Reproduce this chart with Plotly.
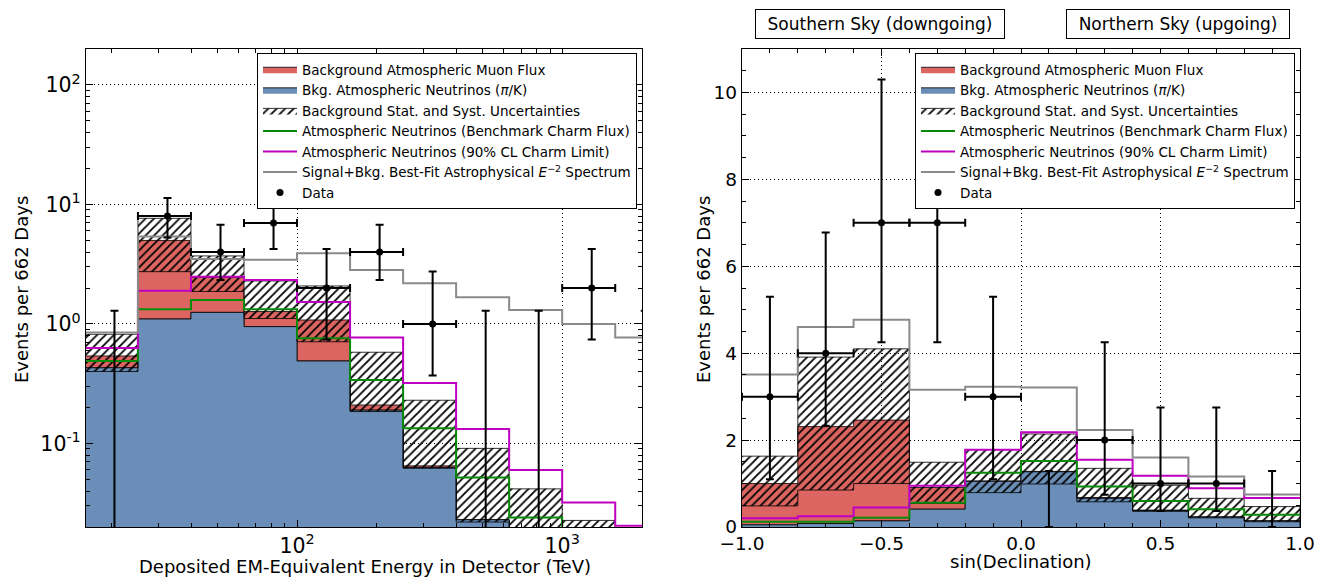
import math
import plotly.graph_objects as go

# ---------------- left panel: deposited energy (TeV) ----------------
e_edges = [15.85, 25.12, 39.81, 63.10, 100.0, 158.5, 251.2, 398.1, 631.0, 1000.0, 1585.0, 2512.0]
e_nu = [0.43, 1.10, 1.25, 0.95, 0.49, 0.19, 0.063, 0.023, 0.011, 0.006, 0.003]
e_muon = [0.11, 3.90, 1.20, 0.32, 0.59, 0.02, 0.002, 0.0, 0.0, 0.0, 0.0]
e_unc_lo = [0.40, 2.74, 1.87, 1.11, 0.71, 0.185, 0.062, 0.022, 0.010, 0.005, 0.002]
e_unc_hi = [0.82, 7.66, 3.71, 2.29, 2.08, 0.58, 0.23, 0.091, 0.0417, 0.0227, 0.012]
e_charm = [0.49, 1.33, 1.59, 1.33, 0.76, 0.34, 0.134, 0.052, 0.024, 0.012, 0.006]
e_charm90 = [0.63, 1.90, 2.49, 2.33, 1.53, 0.77, 0.32, 0.132, 0.060, 0.032, 0.0205]
e_signal = [0.85, 5.40, 3.50, 3.44, 3.90, 2.83, 2.19, 1.67, 1.31, 1.00, 0.77]
e_data = [0, 8, 4, 7, 2, 4, 1, 0, 0, 2, 0]
e_data_lo = [0, 5.30, 2.33, 4.25, 0.74, 2.33, 0.37, 0, 0, 0.74, 0]
e_data_hi = [1.29, 11.32, 6.78, 10.30, 4.25, 6.78, 2.75, 1.29, 1.29, 4.25, 1.29]

# ---------------- right panel: sin(declination) ----------------
d_edges = [-1.0, -0.8, -0.6, -0.4, -0.2, 0.0, 0.2, 0.4, 0.6, 0.8, 1.0]
d_nu = [0.05, 0.08, 0.14, 0.41, 1.05, 1.27, 0.66, 0.38, 0.23, 0.14]
d_muon = [0.95, 2.23, 2.32, 0.50, 0.01, 0.01, 0.02, 0.01, 0.0, 0.0]
d_unc_lo = [0.485, 0.85, 1.00, 0.54, 0.79, 0.99, 0.58, 0.36, 0.21, 0.12]
d_unc_hi = [1.63, 3.91, 4.10, 1.49, 1.78, 2.14, 1.35, 0.96, 0.66, 0.47]
d_charm = [0.12, 0.12, 0.215, 0.56, 1.25, 1.52, 0.93, 0.60, 0.41, 0.28]
d_charm90 = [0.20, 0.25, 0.45, 0.95, 1.78, 2.18, 1.55, 1.18, 0.89, 0.67]
d_signal = [3.51, 4.60, 4.77, 3.16, 3.23, 3.21, 2.23, 1.60, 1.16, 0.75]
d_data = [3, 4, 7, 7, 3, 0, 2, 1, 1, 0]
d_data_lo = [1.10, 2.33, 4.25, 4.25, 1.10, 0, 0.74, 0.37, 0.37, 0]
d_data_hi = [5.30, 6.78, 10.30, 10.30, 5.30, 1.29, 4.25, 2.75, 2.75, 1.29]

labels = [
    "Background Atmospheric Muon Flux",
    "Bkg. Atmospheric Neutrinos (<i>π</i>/K)",
    "Background Stat. and Syst. Uncertainties",
    "Atmospheric Neutrinos (Benchmark Charm Flux)",
    "Atmospheric Neutrinos (90% CL Charm Limit)",
    "Signal+Bkg. Best-Fit Astrophysical <i>E</i><sup>−2</sup> Spectrum",
    "Data",
]

RED = "#dc6461"
BLUE = "#6b8eb8"
GREEN = "#0a8a0a"
MAGENTA = "#c000c0"
GREY = "#8a8a8a"
FONT = "DejaVu Sans"


def steps(edges, vals):
    xs, ys = [], []
    for i, v in enumerate(vals):
        xs += [edges[i], edges[i + 1]]
        ys += [v, v]
    return xs, ys


def band(edges, lo, hi):
    xu, yu = steps(edges, hi)
    xl, yl = steps(edges, lo)
    return xu + xl[::-1], yu + yl[::-1]


fig = go.Figure()


def add_panel(edges, nu, muon, lo, hi, charm, charm90, signal, data, dlo, dhi,
              xa, ya, leg, floor):
    total = [a + b for a, b in zip(nu, muon)]
    common = dict(xaxis=xa, yaxis=ya, legend=leg)

    x, y = band(edges, nu, total)
    fig.add_trace(go.Scatter(x=x, y=y, fill="toself", fillcolor=RED, mode="lines",
                             line=dict(color="black", width=0.8), name=labels[0], **common))
    xs, ys = steps(edges, nu)
    fig.add_trace(go.Scatter(x=[edges[0]] + xs + [edges[-1]], y=[floor] + ys + [floor],
                             fill="toself", fillcolor=BLUE, mode="lines",
                             line=dict(color="black", width=0.8), name=labels[1], **common))
    x, y = band(edges, lo, hi)
    fig.add_trace(go.Scatter(x=x, y=y, fill="toself", fillcolor="rgba(0,0,0,0)", mode="lines",
                             line=dict(color="black", width=0.8),
                             fillpattern=dict(shape="/", fgcolor="black", fgopacity=1,
                                              bgcolor="rgba(0,0,0,0)", size=6, solidity=0.3,
                                              fillmode="overlay"),
                             name=labels[2], **common))
    for vals, col, lab in [(charm, GREEN, labels[3]), (charm90, MAGENTA, labels[4]),
                           (signal, GREY, labels[5])]:
        xs, ys = steps(edges, vals)
        fig.add_trace(go.Scatter(x=xs, y=ys, mode="lines", line=dict(color=col, width=2),
                                 name=lab, **common))

    centers = [(edges[i] + edges[i + 1]) / 2 for i in range(len(data))]
    nz = [i for i, n in enumerate(data) if n > 0]
    zz = [i for i, n in enumerate(data) if n == 0]
    fig.add_trace(go.Scatter(
        x=[centers[i] for i in nz], y=[data[i] for i in nz], mode="markers",
        marker=dict(color="black", size=7), name=labels[6],
        error_y=dict(type="data", symmetric=False, array=[dhi[i] - data[i] for i in nz],
                     arrayminus=[data[i] - dlo[i] for i in nz], color="black", thickness=2, width=4),
        error_x=dict(type="data", symmetric=False, array=[edges[i + 1] - centers[i] for i in nz],
                     arrayminus=[centers[i] - edges[i] for i in nz], color="black", thickness=2, width=4),
        **common))
    fig.add_trace(go.Scatter(
        x=[centers[i] for i in zz], y=[floor] * len(zz), mode="markers",
        marker=dict(color="black", size=1, opacity=0), showlegend=False, hoverinfo="skip",
        error_y=dict(type="data", symmetric=False, array=[dhi[i] - floor for i in zz],
                     arrayminus=[0] * len(zz), color="black", thickness=2, width=4),
        **common))


add_panel(e_edges, e_nu, e_muon, e_unc_lo, e_unc_hi, e_charm, e_charm90, e_signal,
          e_data, e_data_lo, e_data_hi, "x", "y", "legend", 0.001)
add_panel(d_edges, d_nu, d_muon, d_unc_lo, d_unc_hi, d_charm, d_charm90, d_signal,
          d_data, d_data_lo, d_data_hi, "x2", "y2", "legend2", 0.0)

# the page body has an 8px margin, so the figure is offset by that much
OFF = 8
W, H = 1330 - OFF, 578 - OFF


def fx(px):
    return (px - OFF) / W


def fy(py):
    return (H - (py - OFF)) / H


xdom1 = [fx(86), fx(642)]
xdom2 = [fx(742), fx(1300)]
ydom = [fy(527), fy(49)]

axis_style = dict(showline=True, linecolor="black", linewidth=1.3, mirror="allticks",
                  ticks="inside", ticklen=7, tickwidth=1, tickcolor="black", automargin=False,
                  showgrid=True, gridcolor="black", griddash="1px,3px", gridwidth=1,
                  zeroline=False)
minor_style = dict(ticks="inside", ticklen=4, tickcolor="black", showgrid=False)
big_ticks = dict(family=FONT, size=20.5, color="black")
lin_ticks = dict(family=FONT, size=18.5, color="black")

minor_e = [v * 10 ** k for k in (1, 2, 3) for v in range(2, 10)]
minor_y = [v * 10 ** k for k in (-2, -1, 0, 1, 2) for v in range(2, 10)]

legend_style = dict(bgcolor="white", bordercolor="black", borderwidth=1,
                    font=dict(family=FONT, size=13.5, color="black"),
                    xanchor="right", yanchor="top", y=fy(53), itemwidth=34,
                    traceorder="normal")


def ann(text, x, y, size=18, **kw):
    return dict(text=text, x=fx(x), y=fy(y), xref="paper", yref="paper",
                xanchor="center", yanchor="middle", showarrow=False,
                font=dict(size=size, family=FONT, color="black"), **kw)


box = dict(bordercolor="black", borderwidth=1, borderpad=4, bgcolor="white", height=20)

fig.update_layout(
    width=W, height=H, margin=dict(l=0, r=0, t=0, b=0, autoexpand=False),
    paper_bgcolor="white", plot_bgcolor="white",
    font=dict(family=FONT, color="black"),
    xaxis=dict(type="log", domain=xdom1, anchor="y", range=[math.log10(16), math.log10(2000)],
               tickvals=[100, 1000], ticktext=["10<sup>2</sup>", "10<sup>3</sup>"],
               tickfont=big_ticks, minor=dict(tickvals=minor_e, **minor_style), **axis_style),
    yaxis=dict(type="log", domain=ydom, anchor="x", range=[math.log10(0.02), math.log10(200)],
               tickvals=[0.1, 1, 10, 100],
               ticktext=["10<sup>-1</sup>", "10<sup>0</sup>", "10<sup>1</sup>", "10<sup>2</sup>"],
               tickfont=big_ticks, minor=dict(tickvals=minor_y, **minor_style), **axis_style),
    xaxis2=dict(domain=xdom2, anchor="y2", range=[-1, 1], tickvals=[-1, -0.5, 0, 0.5, 1],
                tickformat=".1f", tickfont=lin_ticks,
                minor=dict(dtick=0.1, **minor_style), **axis_style),
    yaxis2=dict(domain=ydom, anchor="x2", range=[0, 11], tickvals=[0, 2, 4, 6, 8, 10],
                tickfont=lin_ticks, minor=dict(dtick=0.5, **minor_style), **axis_style),
    legend=dict(x=fx(637), **legend_style),
    legend2=dict(x=fx(1295), **legend_style),
    annotations=[
        ann("Events per 662 Days", 21, 290, textangle=-90),
        ann("Events per 662 Days", 703, 290, textangle=-90),
        ann("Deposited EM-Equivalent Energy in Detector (TeV)", 365, 566),
        ann("sin(Declination)", 1021, 561),
        ann("Southern Sky (downgoing)", 880, 24, size=17, width=240, **box),
        ann("Northern Sky (upgoing)", 1178, 24, size=17, width=214, **box),
    ],
)

fig.write_html("out.html")
